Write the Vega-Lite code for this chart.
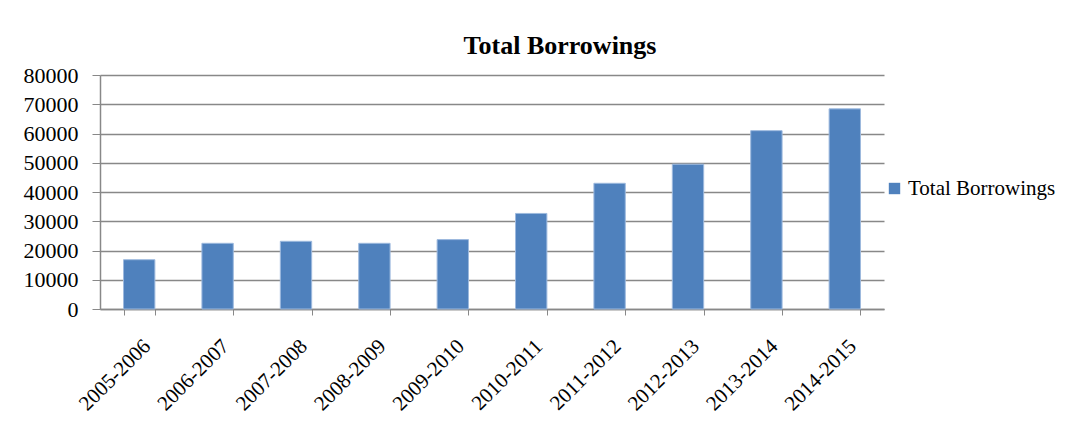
{
  "$schema": "https://vega.github.io/schema/vega-lite/v6.json",
  "width": 784,
  "height": 234,
  "autosize": {"type": "none"},
  "padding": {"left": 100, "top": 75, "right": 188, "bottom": 114},
  "background": "white",
  "title": {
    "text": "Total Borrowings",
    "font": "Liberation Serif",
    "fontSize": 26,
    "fontWeight": "bold",
    "color": "black",
    "anchor": "middle",
    "dx": 68,
    "offset": 5
  },
  "data": {
    "values": [
      {"year": "2005-2006", "value": 16850, "series": "Total Borrowings"},
      {"year": "2006-2007", "value": 22460, "series": "Total Borrowings"},
      {"year": "2007-2008", "value": 23150, "series": "Total Borrowings"},
      {"year": "2008-2009", "value": 22460, "series": "Total Borrowings"},
      {"year": "2009-2010", "value": 23720, "series": "Total Borrowings"},
      {"year": "2010-2011", "value": 32670, "series": "Total Borrowings"},
      {"year": "2011-2012", "value": 42980, "series": "Total Borrowings"},
      {"year": "2012-2013", "value": 49510, "series": "Total Borrowings"},
      {"year": "2013-2014", "value": 60970, "series": "Total Borrowings"},
      {"year": "2014-2015", "value": 68420, "series": "Total Borrowings"}
    ]
  },
  "mark": {"type": "bar", "stroke": "#9DB9DE", "strokeWidth": 1},
  "encoding": {
    "x": {
      "field": "year",
      "type": "nominal",
      "sort": null,
      "scale": {"paddingInner": 0.6, "paddingOuter": 0.3},
      "axis": {
        "title": null,
        "labelAngle": -45,
        "labelFont": "Liberation Serif",
        "labelFontSize": 21,
        "labelColor": "black",
        "labelPadding": 20,
        "tickBand": "extent",
        "tickSize": 6,
        "tickColor": "#888888",
        "domainColor": "#888888",
        "domainWidth": 1.5,
        "grid": false
      }
    },
    "y": {
      "field": "value",
      "type": "quantitative",
      "scale": {"domain": [0, 80000], "nice": false},
      "axis": {
        "title": null,
        "values": [0, 10000, 20000, 30000, 40000, 50000, 60000, 70000, 80000],
        "format": "d",
        "labelFont": "Liberation Serif",
        "labelFontSize": 22,
        "labelColor": "black",
        "labelPadding": 14,
        "tickSize": 8,
        "tickColor": "#888888",
        "domainColor": "#888888",
        "domainWidth": 1.5,
        "gridColor": "#888888",
        "gridWidth": 1.5
      }
    },
    "color": {
      "field": "series",
      "type": "nominal",
      "scale": {"range": ["#4F81BD"]},
      "legend": {
        "title": null,
        "orient": "none",
        "legendX": 784,
        "legendY": 103,
        "symbolType": "square",
        "symbolSize": 130,
        "symbolStrokeWidth": 0,
        "labelFont": "Liberation Serif",
        "labelFontSize": 21,
        "labelLimit": 0,
        "labelColor": "black",
        "labelOffset": 3
      }
    }
  },
  "config": {
    "view": {"stroke": null}
  }
}
